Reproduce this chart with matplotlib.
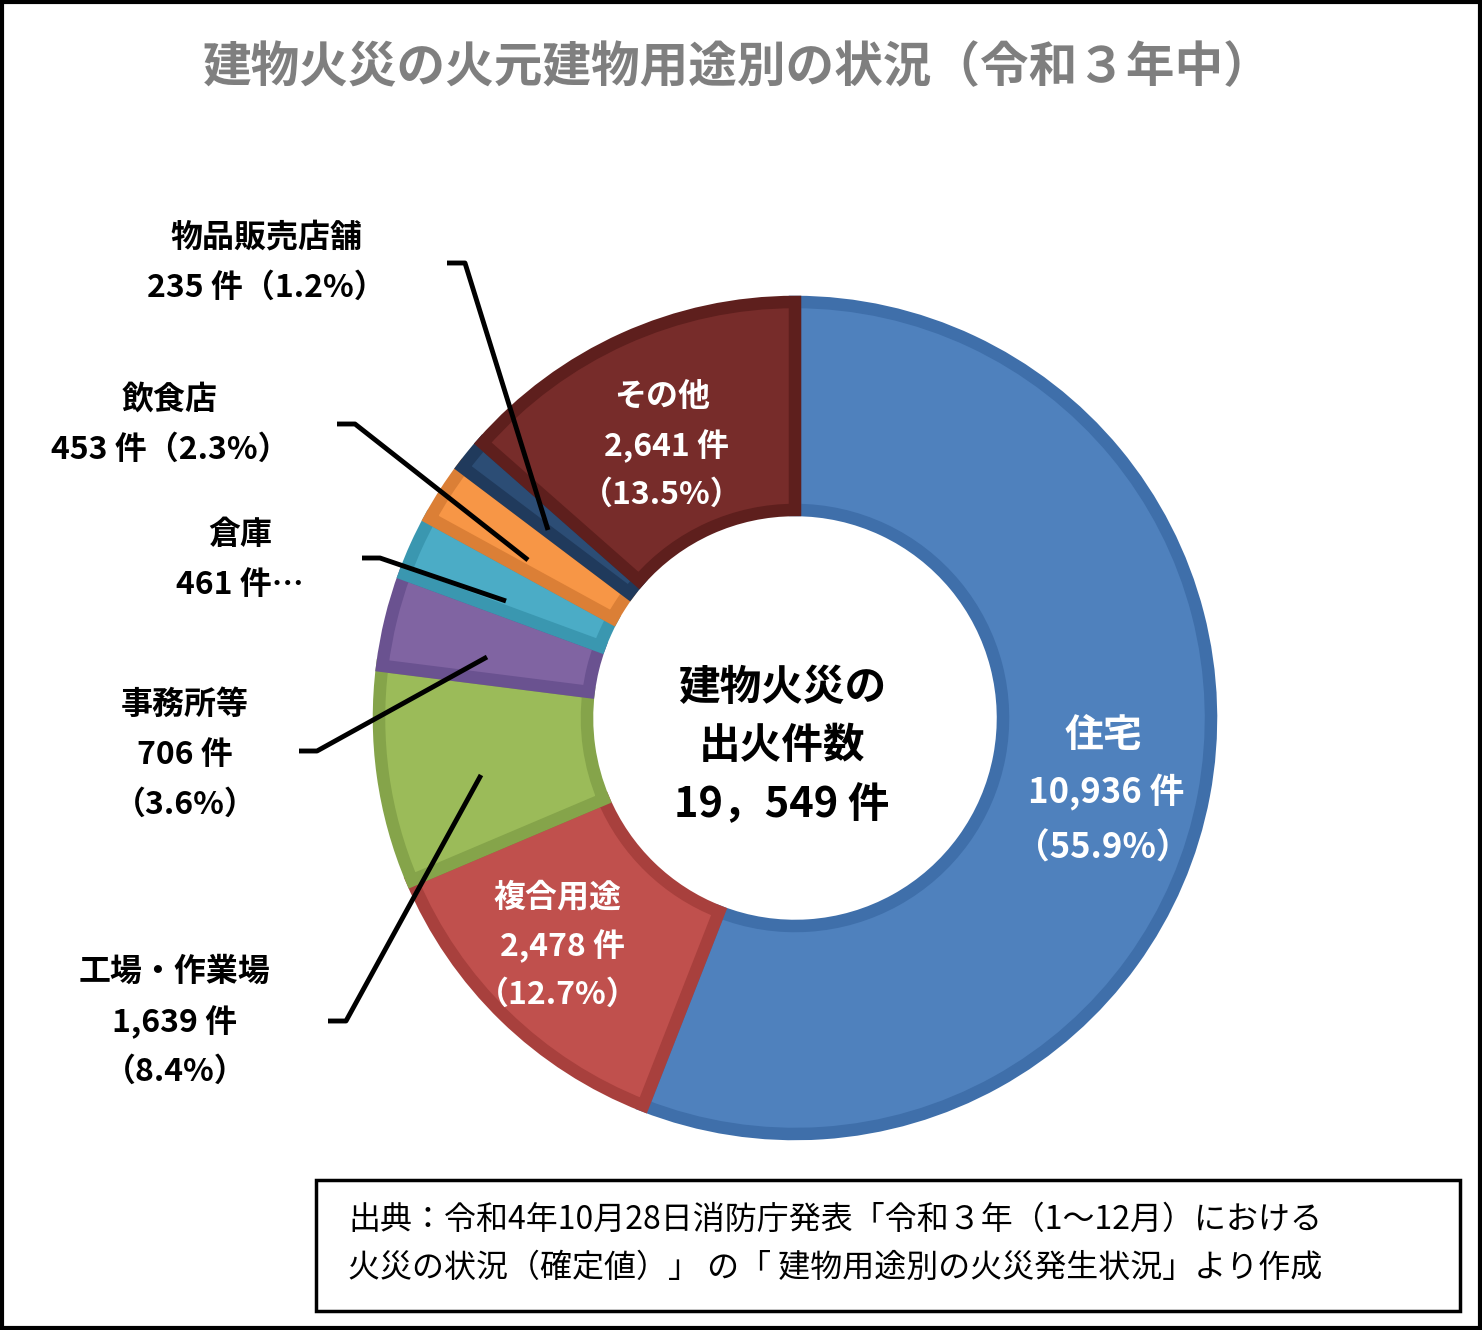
import matplotlib.pyplot as plt
from matplotlib.patches import Rectangle

plt.rcParams['font.family'] = 'Noto Sans CJK JP'

W, H = 1482, 1330

categories = ['住宅', '複合用途', '工場・作業場', '事務所等', '倉庫', '飲食店', '物品販売店舗', 'その他']
counts = [10936, 2478, 1639, 706, 461, 453, 235, 2641]
colors = ['#4F81BD', '#C0504D', '#9BBB59', '#8064A2', '#4BACC6', '#F79646', '#2C4D75', '#772C2A']
edges = ['#3F6FAA', '#A8403D', '#85A44A', '#6A5290', '#3A97B0', '#DB7F36', '#203A5C', '#5E1F1D']


def Y(y):
    return H - y


fig = plt.figure(figsize=(W / 100, H / 100), dpi=100)
ax = fig.add_axes([0, 0, 1, 1])

cx, cy, r = 795, 718, 416
wedges, _ = ax.pie(counts, colors=colors, startangle=90, counterclock=False,
                   center=(cx, Y(cy)), radius=r, frame=True,
                   wedgeprops=dict(width=r * 0.5, linewidth=9))
for w, e in zip(wedges, edges):
    w.set_edgecolor(e)
    w.set_joinstyle('miter')
ax.set_xlim(0, W)
ax.set_ylim(0, H)
ax.set_aspect('equal')
ax.axis('off')

ax.add_patch(Rectangle((2, 2), W - 4, H - 4, fill=False, lw=3, ec='black'))

ax.text(738, Y(68), '建物火災の火元建物用途別の状況（令和３年中）', ha='center', va='center',
        fontsize=35, color='#7F7F7F', fontweight='bold')

# center text
ax.text(782, Y(688), '建物火災の', ha='center', va='center', fontsize=30, fontweight='bold')
ax.text(782, Y(746), '出火件数', ha='center', va='center', fontsize=30, fontweight='bold')
ax.text(782, Y(805), '19，549 件', ha='center', va='center', fontsize=30, fontweight='bold')

tot = sum(counts)


def pct(v):
    return f'{v / tot * 100:.1f}%'


# inside labels (white)
ax.text(1103, Y(735), categories[0], ha='center', va='center', fontsize=28, color='white', fontweight='bold')
ax.text(1106, Y(792), f'{counts[0]:,} 件', ha='center', va='center', fontsize=25, color='white', fontweight='bold')
ax.text(1103, Y(848), f'（{pct(counts[0])}）', ha='center', va='center', fontsize=25, color='white', fontweight='bold')

ax.text(558, Y(897), categories[1], ha='center', va='center', fontsize=23, color='white', fontweight='bold')
ax.text(562, Y(946), f'{counts[1]:,} 件', ha='center', va='center', fontsize=23, color='white', fontweight='bold')
ax.text(558, Y(995), f'（{pct(counts[1])}）', ha='center', va='center', fontsize=23, color='white', fontweight='bold')

ax.text(662, Y(397), categories[7], ha='center', va='center', fontsize=23, color='white', fontweight='bold')
ax.text(666, Y(446), f'{counts[7]:,} 件', ha='center', va='center', fontsize=23, color='white', fontweight='bold')
ax.text(662, Y(495), f'（{pct(counts[7])}）', ha='center', va='center', fontsize=23, color='white', fontweight='bold')

# outside labels
outside = [
    (6, 266, [categories[6], f'{counts[6]} 件（{pct(counts[6])}）'], 238),
    (5, 170, [categories[5], f'{counts[5]} 件（{pct(counts[5])}）'], 400),
    (4, 240, [categories[4], f'{counts[4]} 件…'], 535),
    (3, 185, [categories[3], f'{counts[3]} 件', f'（{pct(counts[3])}）'], 705),
    (2, 175, [categories[2], f'{counts[2]:,} 件', f'（{pct(counts[2])}）'], 972),
]
for idx, x, lines, y0 in outside:
    for k, s in enumerate(lines):
        ax.text(x, Y(y0 + k * 50), s, ha='center', va='center', fontsize=23, fontweight='bold')

leaders = [
    ([447, 465, 548], [263, 263, 530]),
    ([337, 355, 528], [424, 424, 560]),
    ([362, 380, 506], [558, 558, 601]),
    ([299, 317, 487], [751, 751, 657]),
    ([328, 346, 481], [1021, 1021, 775]),
]
for xs, ys in leaders:
    ax.plot(xs, [Y(v) for v in ys], color='black', lw=3.5, solid_capstyle='butt')

# source box
ax.add_patch(Rectangle((316, Y(1311)), 1144, 131, fill=False, lw=2.5, ec='black'))
ax.text(348, Y(1220), '出典：令和4年10月28日消防庁発表「令和３年（1～12月）における',
        ha='left', va='center', fontsize=23)
ax.text(348, Y(1268), '火災の状況（確定値）」 の「 建物用途別の火災発生状況」より作成',
        ha='left', va='center', fontsize=23)

fig.savefig('out.png', dpi=100)
